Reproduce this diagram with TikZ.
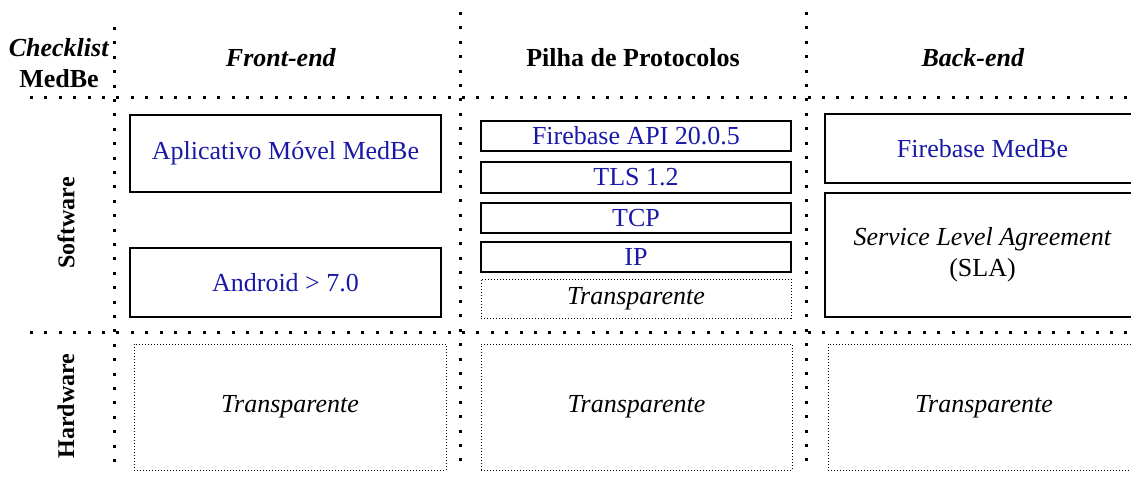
\documentclass[tikz,border=0pt]{standalone}
\usepackage{fontspec}
\setmainfont{Liberation Serif}
\newlength{\du}
\setlength{\du}{0.5pt}
\newcommand{\medfont}{\fontsize{13}{15.5}\selectfont}
\definecolor{medblue}{rgb}{0.100000, 0.100000, 0.650000}
\tikzset{
  gridline/.style={line width=1.5pt, dash pattern=on 1.5pt off 5.7pt},
  swbox/.style={draw, line width=0.55pt, inner sep=0pt, align=center, text=medblue, font=\medfont},
  tbox/.style={draw, line width=0.5pt, dash pattern=on 0.5pt off 1pt, inner sep=0pt, align=center, font=\medfont\itshape},
  headtext/.style={font=\medfont\bfseries, align=center},
  sidetext/.style={font=\fontsize{12}{14}\selectfont\bfseries, rotate=90}
}

\begin{document}
\begin{tikzpicture}
\pgftransformxscale{1.000000}
\pgftransformyscale{-1.000000}
\useasboundingbox (0\du,0\du) rectangle (1131\du,478\du);
% grid
\draw[gridline] (114\du,27\du)--(114\du,470\du);
\draw[gridline] (460\du,12\du)--(460\du,470\du);
\draw[gridline] (806\du,12\du)--(806\du,470\du);
\draw[gridline] (30\du,97\du)--(1131\du,97\du);
\draw[gridline] (30\du,332\du)--(1131\du,332\du);
% headers
\node[headtext] (checklist) at (59\du,63\du){\textit{Checklist}\\MedBe};
\node[headtext] (frontend) at (281\du,58\du){\textit{Front-end}};
\node[headtext] (pilha) at (633\du,58\du){Pilha de Protocolos};
\node[headtext] (backend) at (973\du,58\du){\textit{Back-end}};
\node[sidetext] (software) at (66\du,223\du){Software};
\node[sidetext] (hardware) at (66\du,406\du){Hardware};
% front-end
\node[swbox, minimum width=311\du, minimum height=77\du] (app) at (285.5\du,153.5\du){Aplicativo Móvel MedBe};
\node[swbox, minimum width=311\du, minimum height=69\du] (android) at (285.5\du,282.5\du){Android > 7.0};
% pilha de protocolos
\node[swbox, minimum width=310\du, minimum height=30\du] (fbapi) at (636\du,136\du){Firebase API 20.0.5};
\node[swbox, minimum width=310\du, minimum height=31\du] (tls) at (636\du,177.5\du){TLS 1.2};
\node[swbox, minimum width=310\du, minimum height=30\du] (tcp) at (636\du,218\du){TCP};
\node[swbox, minimum width=310\du, minimum height=30\du] (ip) at (636\du,257\du){IP};
\node[tbox, minimum width=310\du, minimum height=39\du] (pilhatransp) at (636\du,298.5\du){Transparente};
% back-end
\node[swbox, minimum width=315\du, minimum height=69\du] (fbmedbe) at (982.5\du,148.5\du){Firebase MedBe};
\node[swbox, text=black, minimum width=315\du, minimum height=124\du] (sla) at (982.5\du,255\du){\textit{Service Level Agreement}\\(SLA)};
% hardware
\node[tbox, minimum width=312\du, minimum height=126\du] (fronthw) at (290\du,407\du){Transparente};
\node[tbox, minimum width=311\du, minimum height=126\du] (pilhahw) at (636.5\du,407\du){Transparente};
\node[tbox, minimum width=312\du, minimum height=126\du] (backhw) at (984\du,407\du){Transparente};
\end{tikzpicture}
\end{document}
